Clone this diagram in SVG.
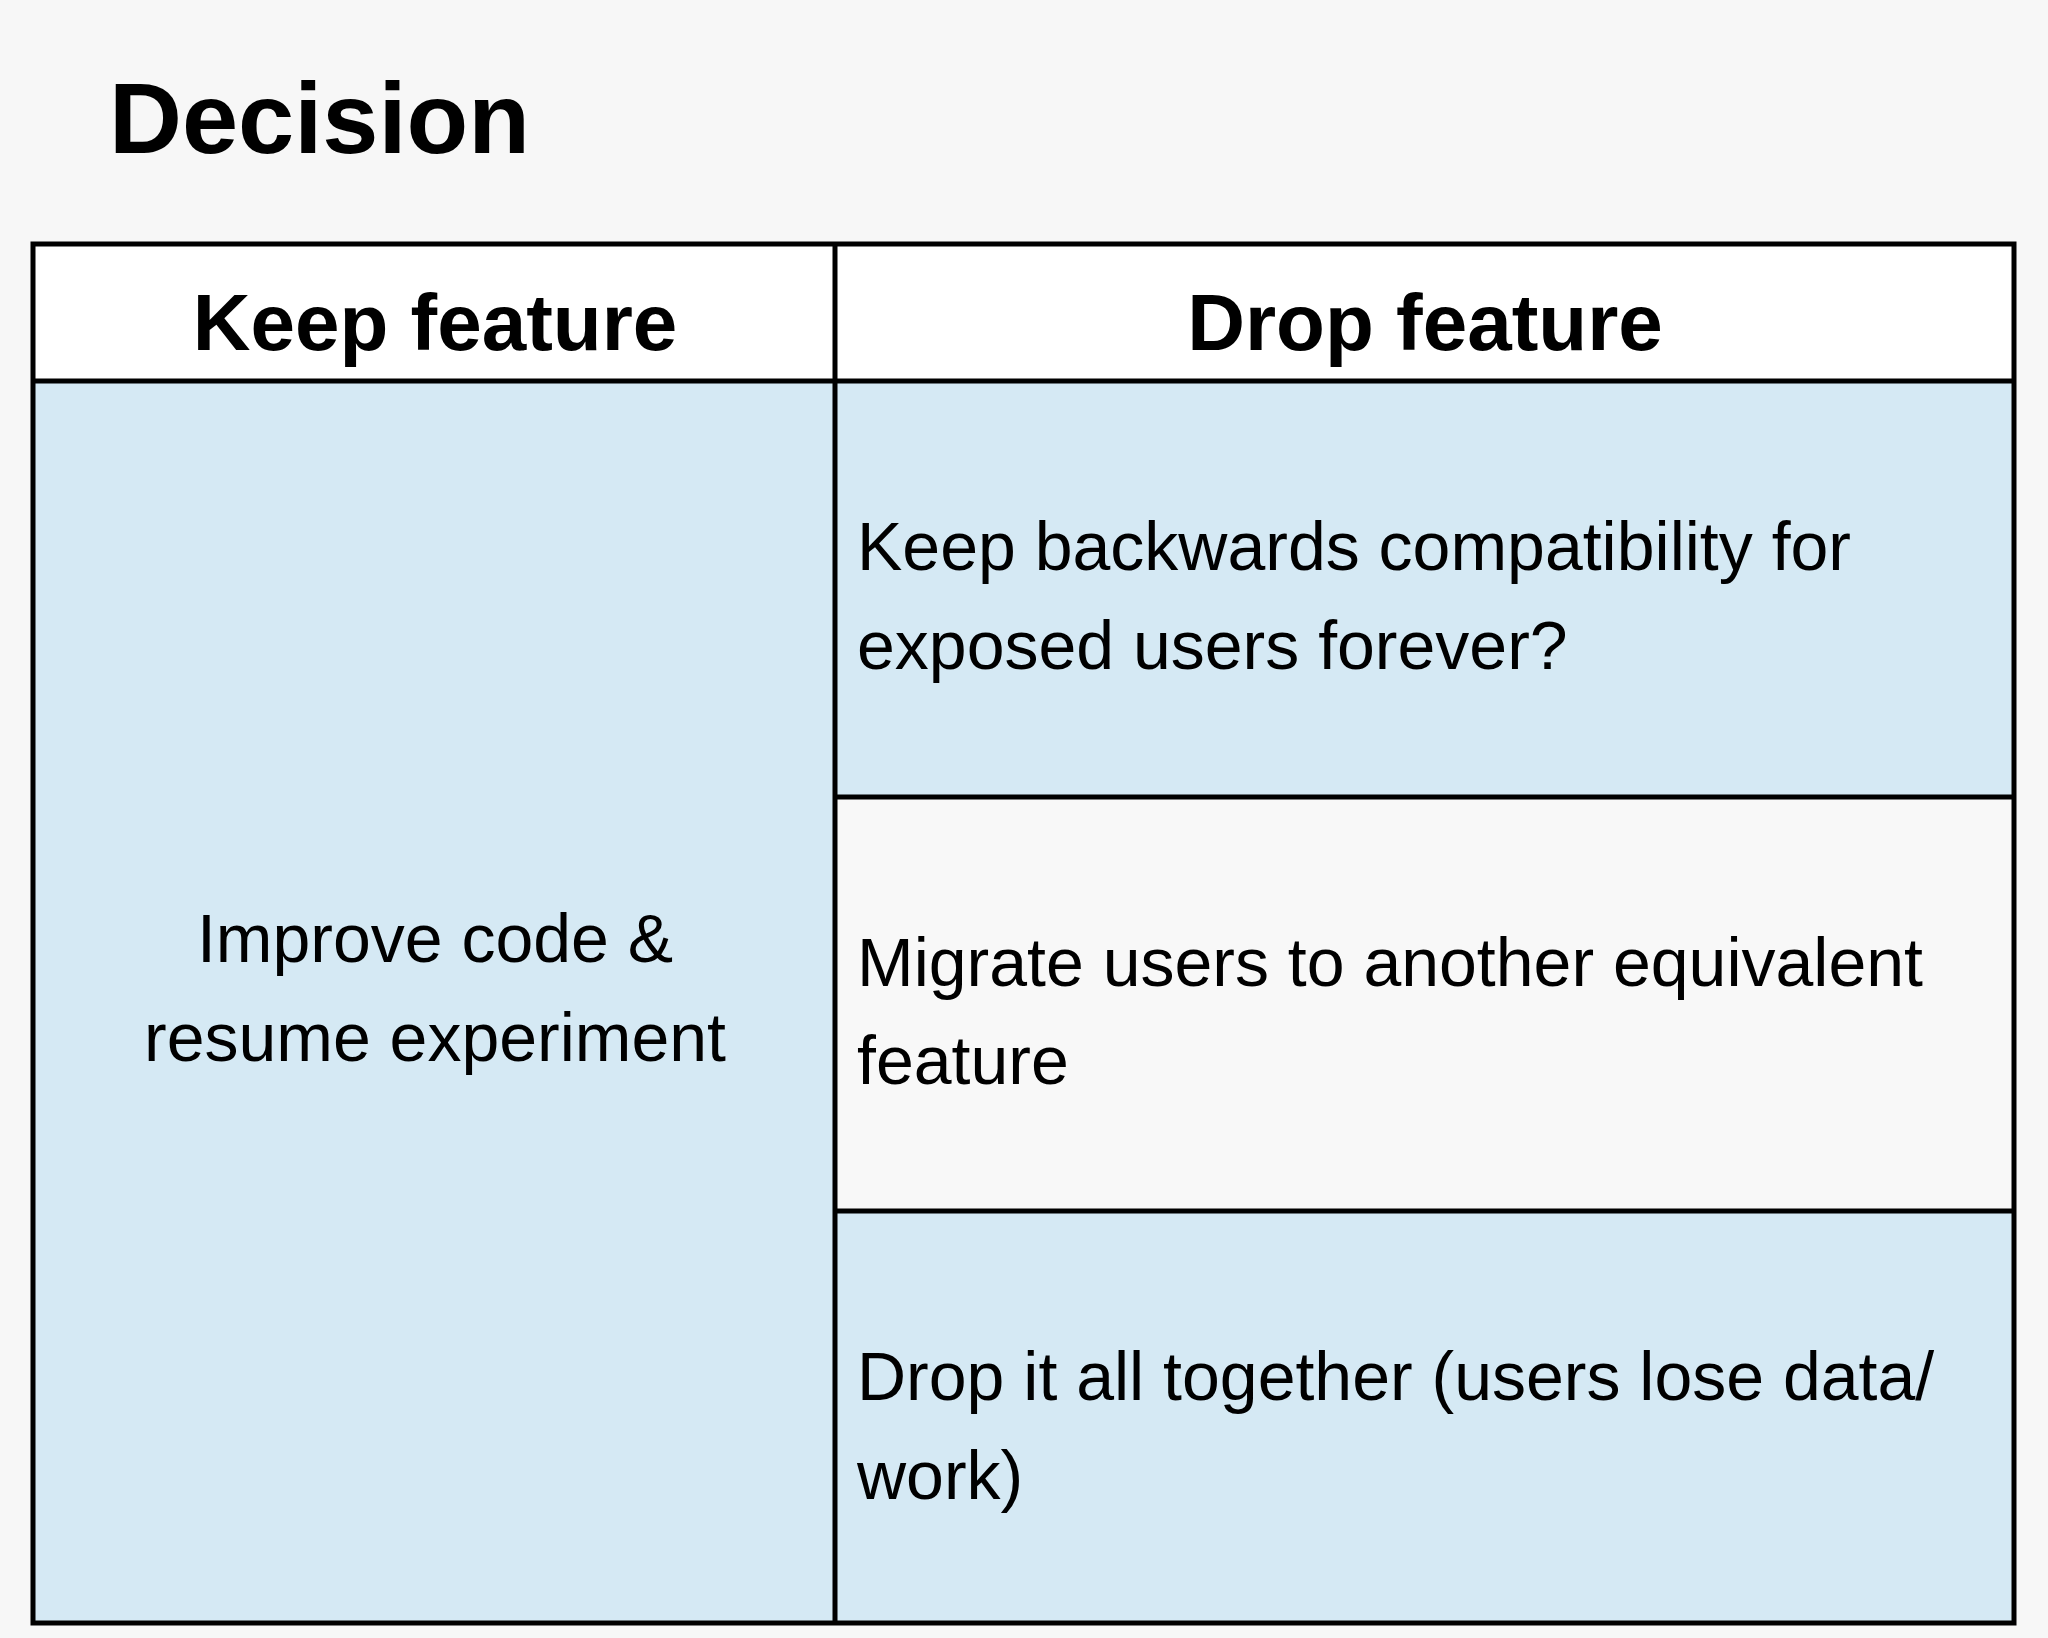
<svg xmlns="http://www.w3.org/2000/svg" width="2048" height="1638" viewBox="0 0 2048 1638">
<style>
text{font-family:"Liberation Sans",Arial,sans-serif;fill:#000}
.h{font-weight:bold;font-size:80px;text-anchor:middle}
.b{font-size:68px}
.c{text-anchor:middle}
.ln{stroke:#000;stroke-width:5;fill:none}
</style>
<rect width="2048" height="1638" fill="#f7f7f7"/>
<text x="109" y="153" font-size="101" font-weight="bold" style="font-family:'Liberation Sans',Arial,sans-serif">Decision</text>
<g id="header">
<rect x="33" y="244" width="1981" height="137" fill="#ffffff"/>
<text class="h" x="435" y="350">Keep feature</text>
<text class="h" x="1425" y="350">Drop feature</text>
</g>
<g id="keep">
<rect x="33" y="381" width="802" height="1242" fill="#d5e9f4"/>
<text class="b c" x="435" y="962">Improve code &amp;</text>
<text class="b c" x="435" y="1061">resume experiment</text>
</g>
<g id="drop1">
<rect x="835" y="381" width="1179" height="416" fill="#d5e9f4"/>
<text class="b" x="857" y="570">Keep backwards compatibility for</text>
<text class="b" x="857" y="669">exposed users forever?</text>
</g>
<g id="drop2">
<rect x="835" y="797" width="1179" height="414" fill="#f8f8f8"/>
<text class="b" x="857" y="986">Migrate users to another equivalent</text>
<text class="b" x="857" y="1084">feature</text>
</g>
<g id="drop3">
<rect x="835" y="1211" width="1179" height="412" fill="#d5e9f4"/>
<text class="b" x="857" y="1400">Drop it all together (users lose data/</text>
<text class="b" x="857" y="1499">work)</text>
</g>
<g id="connectors">
<rect class="ln" x="33" y="244" width="1981" height="1379"/>
<line class="ln" x1="33" y1="381" x2="2014" y2="381"/>
<line class="ln" x1="835" y1="244" x2="835" y2="1623"/>
<line class="ln" x1="835" y1="797" x2="2014" y2="797"/>
<line class="ln" x1="835" y1="1211" x2="2014" y2="1211"/>
</g>
</svg>
